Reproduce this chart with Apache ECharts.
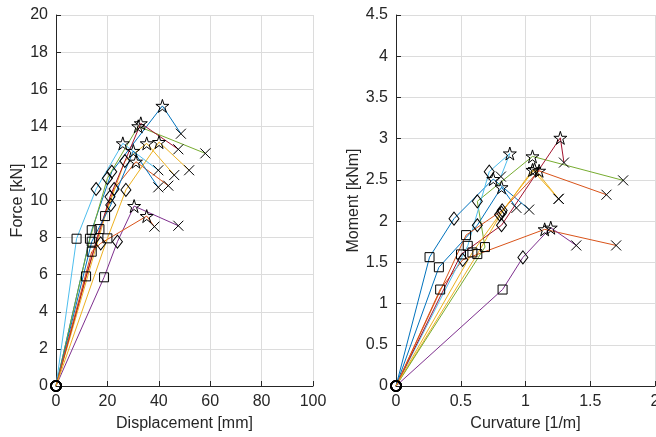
<!DOCTYPE html>
<html>
<head>
<meta charset="utf-8">
<script src="https://cdn.jsdelivr.net/npm/echarts@6/dist/echarts.min.js"></script>
<style>
html,body{margin:0;padding:0;background:#fff;}
#c{width:656px;height:437px;}
</style>
</head>
<body>
<div id="c"></div>
<script>
// MATLAB default colour order, cycled over 10 specimens
const seriesColors = ['#0072BD','#D95319','#EDB120','#7E2F8E','#77AC30','#4DBEEE','#A2142F','#0072BD','#D95319','#EDB120'];
// marker sequence along every curve: origin, first crack, yield, peak, end
const markerTypes = ['circle','square','diamond','star','x'];

// Left panel: displacement [mm] and force [kN]
const disp = [
  [0, 13.9, 21.7, 41.4, 48.6],
  [0, 16.9, 22.6, 31.1, 43.7],
  [0, 19.1, 26.8, 35.3, 46.0],
  [0, 18.7, 23.9, 30.4, 47.6],
  [0, 13.2, 20.0, 32.0, 58.1],
  [0, 8.0, 15.6, 26.0, 39.8],
  [0, 11.7, 21.0, 33.0, 47.6],
  [0, 13.9, 21.3, 30.1, 39.8],
  [0, 13.9, 17.4, 35.3, 38.3],
  [0, 20.0, 27.2, 40.1, 51.8]
];
const force = [
  [0, 8.40, 11.55, 15.10, 13.60],
  [0, 8.46, 10.62, 12.09, 10.80],
  [0, 9.16, 12.13, 13.08, 11.37],
  [0, 5.86, 7.78, 9.70, 8.64],
  [0, 7.94, 11.20, 14.00, 12.54],
  [0, 7.94, 10.62, 13.08, 11.63],
  [0, 5.91, 10.20, 14.16, 12.76],
  [0, 7.78, 9.76, 12.67, 10.71],
  [0, 7.24, 7.69, 9.16, 8.59],
  [0, 7.96, 10.57, 13.15, 11.63]
];

// Right panel: curvature [1/m] and moment [kNm]
const curv = [
  [0, 0.259, 0.448, 0.751, 1.028],
  [0, 0.341, 0.515, 1.148, 1.700],
  [0, 0.628, 0.815, 1.054, 1.256],
  [0, 0.823, 0.980, 1.195, 1.392],
  [0, 0.687, 0.628, 1.054, 1.754],
  [0, 0.554, 0.720, 0.879, 0.810],
  [0, 0.502, 0.815, 1.269, 1.297],
  [0, 0.331, 0.628, 0.815, 0.930],
  [0, 0.541, 0.820, 1.105, 1.625],
  [0, 0.590, 0.800, 1.070, 1.256]
];
const moment = [
  [0, 1.563, 2.03, 2.51, 2.14],
  [0, 1.17, 1.53, 1.90, 1.705],
  [0, 1.60, 2.10, 2.62, 2.27],
  [0, 1.17, 1.56, 1.92, 1.705],
  [0, 1.685, 2.24, 2.785, 2.494],
  [0, 1.70, 2.60, 2.82, 2.54],
  [0, 1.596, 1.95, 3.01, 2.71],
  [0, 1.44, 1.95, 2.41, 2.16],
  [0, 1.83, 2.13, 2.61, 2.32],
  [0, 1.62, 2.08, 2.63, 2.27]
];

const dispTicks = [0, 20, 40, 60, 80, 100];
const forceTicks = [0, 2, 4, 6, 8, 10, 12, 14, 16, 18, 20];
const curvTicks = [0, 0.5, 1, 1.5, 2];
const momentTicks = [0, 0.5, 1, 1.5, 2, 2.5, 3, 3.5, 4, 4.5];

const STAR = 'path://M50,0L61.2,34.5L97.6,34.5L68.2,55.9L79.4,90.5L50,69.1L20.6,90.5L31.8,55.9L2.4,34.5L38.8,34.5Z';
const CROSS = 'path://M0,0L10,10M0,10L10,0';
const symMap = {circle:'circle', square:'rect', diamond:'diamond', star:STAR, x:CROSS};
const sizeMap = {circle:10, square:9, diamond:[10,13], star:13, x:10};

const FONT = 'Liberation Sans, Arial, Helvetica, sans-serif';
const ink = '#262626';

function axis(gridIndex, min, max, interval, name, gap) {
  return {
    type: 'value', gridIndex, min, max, interval,
    name, nameLocation: 'middle', nameGap: gap,
    nameTextStyle: {fontSize: 16, color: ink, fontFamily: FONT},
    axisLine: {show: true, onZero: false, lineStyle: {color: ink, width: 1}},
    axisTick: {show: true, inside: true, length: 5, lineStyle: {color: ink, width: 1}},
    axisLabel: {color: ink, fontSize: 16, fontFamily: FONT, margin: 8, hideOverlap: false},
    splitLine: {show: true, lineStyle: {color: '#dcdcdc', width: 1}}
  };
}

function buildSeries(xs, ys, gi) {
  return xs.map((xa, i) => ({
    type: 'line',
    xAxisIndex: gi, yAxisIndex: gi,
    clip: false,
    animation: false,
    showAllSymbol: true,
    lineStyle: {color: seriesColors[i], width: 1},
    itemStyle: {color: 'rgba(0,0,0,0)', borderColor: '#000', borderWidth: 1},
    emphasis: {disabled: true},
    data: xa.map((x, j) => {
      const m = markerTypes[j];
      const item = {value: [x, ys[i][j]], symbol: symMap[m], symbolSize: sizeMap[m]};
      if (m === 'circle') item.itemStyle = {borderWidth: 1.6};
      return item;
    })
  }));
}

const chart = echarts.init(document.getElementById('c'), null, {renderer: 'canvas'});
chart.setOption({
  backgroundColor: '#ffffff',
  animation: false,
  textStyle: {fontFamily: FONT},
  grid: [
    {left: 56, top: 15, width: 257, height: 371, containLabel: false, outerBoundsMode: 'none'},
    {left: 396, top: 15, width: 259, height: 371, containLabel: false, outerBoundsMode: 'none'}
  ],
  xAxis: [
    axis(0, dispTicks[0], dispTicks[dispTicks.length - 1], 20, 'Displacement [mm]', 30),
    axis(1, curvTicks[0], curvTicks[curvTicks.length - 1], 0.5, 'Curvature [1/m]', 30)
  ],
  yAxis: [
    axis(0, forceTicks[0], forceTicks[forceTicks.length - 1], 2, 'Force [kN]', 30),
    axis(1, momentTicks[0], momentTicks[momentTicks.length - 1], 0.5, 'Moment [kNm]', 32)
  ],
  series: buildSeries(disp, force, 0).concat(buildSeries(curv, moment, 1))
});
</script>
</body>
</html>
